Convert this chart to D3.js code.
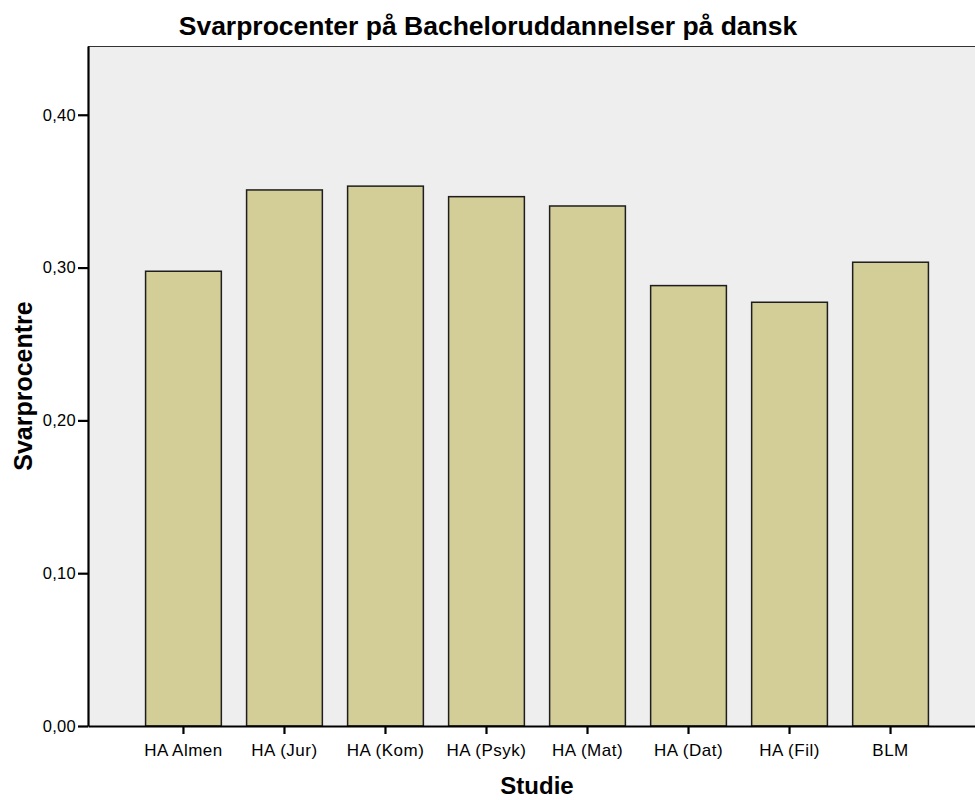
<!DOCTYPE html>
<html>
<head>
<meta charset="utf-8">
<script src="https://cdn.jsdelivr.net/npm/d3@7"></script>
<style>
  body { margin: 0; background: #fff; }
  text { font-family: "Liberation Sans", Arial, sans-serif; }
</style>
</head>
<body>
<svg id="chart" width="975" height="800"></svg>
<script>
// data
const studier = ["HA Almen", "HA (Jur)", "HA (Kom)", "HA (Psyk)", "HA (Mat)", "HA (Dat)", "HA (Fil)", "BLM"]
const svarprocent = [0.2976, 0.3508, 0.3533, 0.3464, 0.3403, 0.2882, 0.2773, 0.3035]
const yTicks = [0, 0.1, 0.2, 0.3, 0.4]

const svg = d3.select("#chart")
const plotL = 88, plotR = 986, plotT = 46, plotB = 726

const x = d3.scaleBand()
    .domain(studier)
    .range([plotL, plotR])
    .paddingInner(0.25)
    .paddingOuter(0.57)

const y = d3.scaleLinear()
    .domain([0, 0.445])
    .range([plotB, plotT])

const fmt = d => d3.format(".2f")(d).replace(".", ",")

// plot background
svg.append("rect")
    .attr("x", plotL).attr("y", plotT)
    .attr("width", plotR - plotL).attr("height", plotB - plotT)
    .attr("fill", "#eeeeee")

svg.append("line")
    .attr("x1", plotL).attr("x2", plotR)
    .attr("y1", plotT + 0.5).attr("y2", plotT + 0.5)
    .attr("stroke", "#333").attr("stroke-width", 1.2)

// bars
svg.append("g")
    .selectAll("rect")
    .data(studier)
    .enter()
    .append("rect")
    .attr("x", d => x(d))
    .attr("y", (d, i) => y(svarprocent[i]))
    .attr("width", x.bandwidth())
    .attr("height", (d, i) => y(0) - y(svarprocent[i]))
    .attr("fill", "#d3ce98")
    .attr("stroke", "#1e1e1e")
    .attr("stroke-width", 1.5)

// y axis
const yAxis = svg.append("g")
    .attr("transform", `translate(${plotL},0)`)
    .call(d3.axisLeft(y).tickValues(yTicks).tickFormat(fmt).tickSize(10).tickSizeOuter(0).tickPadding(2))
yAxis.select(".domain").attr("stroke", "#000").attr("stroke-width", 2.2)
yAxis.selectAll(".tick line").attr("stroke", "#000").attr("stroke-width", 2.2)
yAxis.selectAll(".tick text").style("font-size", "16.5px").attr("fill", "#000").attr("letter-spacing", "0.3px")

// x axis
const xAxis = svg.append("g")
    .attr("transform", `translate(0,${plotB})`)
    .call(d3.axisBottom(x).tickSize(8).tickSizeOuter(0).tickPadding(10))
xAxis.select(".domain").attr("stroke", "#000").attr("stroke-width", 2.2)
xAxis.selectAll(".tick line").attr("stroke", "#000").attr("stroke-width", 2.2)
xAxis.selectAll(".tick text").style("font-size", "17px").attr("fill", "#000").attr("letter-spacing", "0.5px")

// titles
svg.append("text")
    .attr("x", 488).attr("y", 35)
    .attr("text-anchor", "middle")
    .style("font-size", "26.5px").style("font-weight", "bold")
    .text("Svarprocenter på Bacheloruddannelser på dansk")

svg.append("text")
    .attr("x", (plotL + plotR) / 2).attr("y", 794)
    .attr("text-anchor", "middle")
    .style("font-size", "24px").style("font-weight", "bold")
    .text("Studie")

svg.append("text")
    .attr("transform", `translate(32,${(plotT + plotB) / 2}) rotate(-90)`)
    .attr("text-anchor", "middle")
    .style("font-size", "25px").style("font-weight", "bold")
    .text("Svarprocentre")
</script>
</body>
</html>
